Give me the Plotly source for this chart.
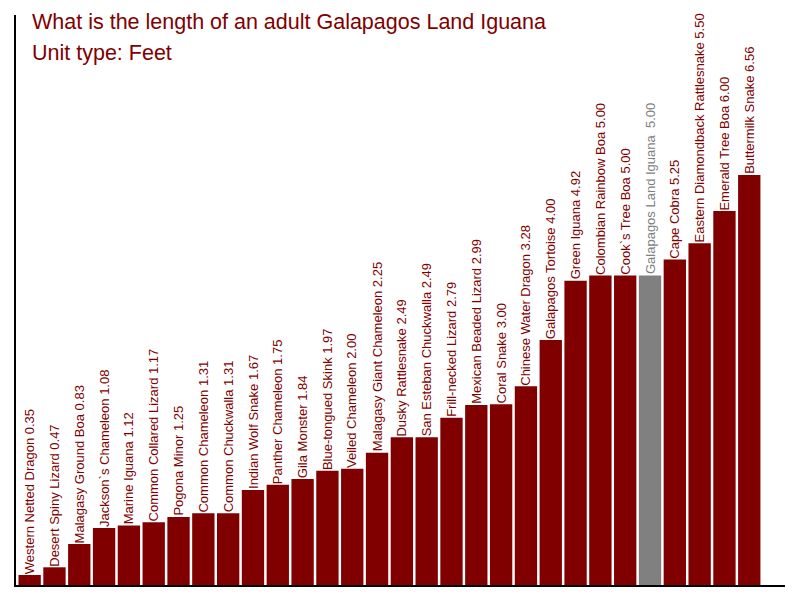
import plotly.graph_objects as go

# animals and adult length in feet
animals = ['Western Netted Dragon', 'Desert Spiny Lizard', 'Malagasy Ground Boa', 'Jackson`s Chameleon',
           'Marine Iguana', 'Common Collared Lizard', 'Pogona Minor', 'Common Chameleon', 'Common Chuckwalla',
           'Indian Wolf Snake', 'Panther Chameleon', 'Gila Monster', 'Blue-tongued Skink', 'Veiled Chameleon',
           'Malagasy Giant Chameleon', 'Dusky Rattlesnake', 'San Esteban Chuckwalla', 'Frill-necked Lizard',
           'Mexican Beaded Lizard', 'Coral Snake', 'Chinese Water Dragon', 'Galapagos Tortoise', 'Green Iguana',
           'Colombian Rainbow Boa', 'Cook`s Tree Boa', 'Galapagos Land Iguana', 'Cape Cobra',
           'Eastern Diamondback Rattlesnake', 'Emerald Tree Boa', 'Buttermilk Snake']
lengths = [0.35, 0.47, 0.83, 1.08, 1.12, 1.17, 1.25, 1.31, 1.31, 1.67, 1.75, 1.84, 1.97, 2.00, 2.25,
           2.49, 2.49, 2.79, 2.99, 3.00, 3.28, 4.00, 4.92, 5.00, 5.00, 5.00, 5.25, 5.50, 6.00, 6.56]
highlight = 'Galapagos Land Iguana'

title_lines = ['What is the length of an adult Galapagos Land Iguana', 'Unit type: Feet']

red = '#800000'
grey = '#808080'
fnt = 'Liberation Sans, Arial, sans-serif'

colors = [grey if a == highlight else red for a in animals]
labels = []
for a, v in zip(animals, lengths):
    if a == highlight:
        labels.append(a + ' \u00a0' + '%.2f' % v)
    else:
        labels.append(a + ' ' + '%.2f' % v)

xs = list(range(len(animals)))

fig = go.Figure(go.Bar(
    x=xs,
    y=lengths,
    width=0.9,
    marker=dict(color=colors, line=dict(width=0)),
    hoverinfo='skip',
))

# labels as rotated annotations so the tall ones are not clipped at the top
for x, v, t, c in zip(xs, lengths, labels, colors):
    fig.add_annotation(x=x, y=v, text=t, textangle=-90, showarrow=False,
                       xanchor='center', yanchor='bottom', yshift=-1,
                       font=dict(family=fnt, size=13, color=c))

# page body adds an 8px offset, margins compensate for it
fig.update_layout(
    width=800, height=600,
    margin=dict(l=7.5, r=23, t=7, b=23),
    plot_bgcolor='white',
    paper_bgcolor='white',
    showlegend=False,
    font=dict(family=fnt),
)
fig.update_xaxes(range=[-0.55, 30.44], showticklabels=False, ticks='', showgrid=False,
                 zeroline=False, showline=True, linecolor='black', linewidth=1.5)
fig.update_yaxes(range=[0.195, 9.045], showticklabels=False, ticks='', showgrid=False,
                 zeroline=False, showline=True, linecolor='black', linewidth=1.5)

for line, ypos in zip(title_lines, [0.9877, 0.9333]):
    fig.add_annotation(text=line, xref='paper', yref='paper', x=0.018, y=ypos,
                       xanchor='left', yanchor='middle', showarrow=False,
                       font=dict(size=21.5, color=red, family=fnt))

fig.write_html("out.html")
